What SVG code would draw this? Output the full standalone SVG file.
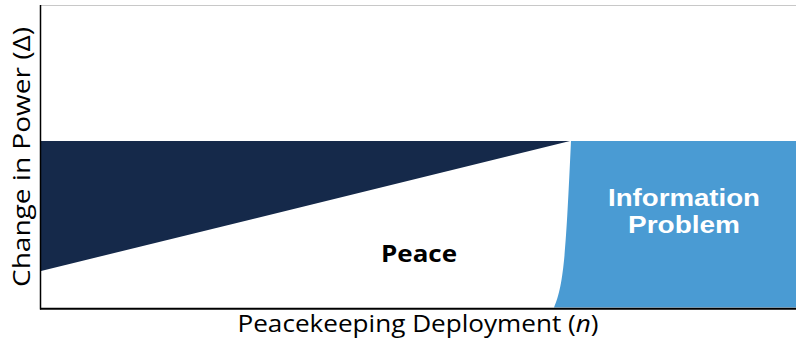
<svg xmlns="http://www.w3.org/2000/svg" width="796" height="342" viewBox="0 0 796 342">
<style>
.lbl{font-family:"Open Sans","Liberation Sans",sans-serif;font-size:24px;fill:#000}
.bold{font-weight:bold}
.w{fill:#fff;font-family:"Liberation Sans",sans-serif;font-size:23px}
</style>
<rect width="796" height="342" fill="#fff"/>
<g id="frame">
<line x1="41" y1="5.5" x2="796" y2="5.5" stroke="#c8c8c8" stroke-width="1.2"/>
</g>
<g id="danger">
<polygon points="41,141 570,141 41,271" fill="#15294a"/>
</g>
<g id="info">
<path d="M571,141 L796,141 L796,307.5 L554,307.5 C564,285 566,250 571,141 Z" fill="#4a9bd3"/>
<text class="lbl bold w" x="684" y="206" text-anchor="middle" textLength="152" lengthAdjust="spacingAndGlyphs">Information</text>
<text class="lbl bold w" x="684" y="233" text-anchor="middle" textLength="112" lengthAdjust="spacingAndGlyphs">Problem</text>
</g>
<g id="peace">
<text class="lbl bold" x="419" y="262" text-anchor="middle" textLength="76" lengthAdjust="spacingAndGlyphs">Peace</text>
</g>
<g id="axes">
<line x1="40.5" y1="5" x2="40.5" y2="309.5" stroke="#000" stroke-width="1.5"/>
<line x1="40" y1="308.8" x2="796" y2="308.8" stroke="#000" stroke-width="2"/>
<text class="lbl" x="418" y="332" text-anchor="middle" textLength="361" lengthAdjust="spacingAndGlyphs">Peacekeeping Deployment (<tspan font-style="italic">n</tspan>)</text>
<text class="lbl" transform="translate(30,157) rotate(-90)" x="0" y="0" text-anchor="middle" textLength="260" lengthAdjust="spacingAndGlyphs">Change in Power (Δ)</text>
</g>
</svg>
